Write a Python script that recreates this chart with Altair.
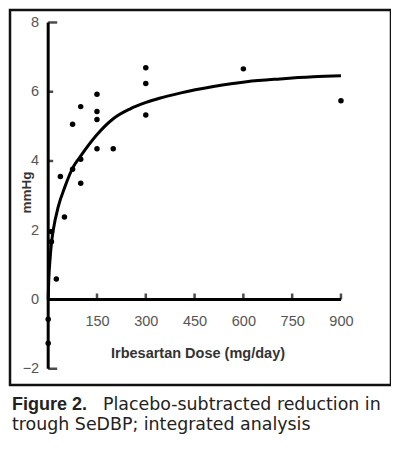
import altair as alt
import pandas as pd

# ---- data ----
POINT_DOSE = [0, 0, 10, 10, 25, 37.5, 50, 75, 75, 100, 100, 100,
              150, 150, 150, 150, 200, 300, 300, 300, 600, 900]
POINT_VALUE = [-0.57, -1.26, 1.96, 1.67, 0.59, 3.55, 2.38, 3.76, 5.06, 4.05, 3.36, 5.57,
               5.93, 5.43, 5.20, 4.35, 4.35, 6.69, 6.24, 5.33, 6.66, 5.74]

CURVE_DOSE = [0, 1, 3, 5.5, 10, 15.7, 31, 51.6, 77, 98, 149, 200, 251, 301, 342,
              405, 508, 610, 713, 815, 900]
CURVE_VALUE = [0.0, 0.35, 0.8, 1.14, 1.62, 2.01, 2.68, 3.26, 3.83, 4.12, 4.75, 5.22,
               5.50, 5.69, 5.81, 5.96, 6.15, 6.29, 6.37, 6.43, 6.46]

X_TICKS = [150, 300, 450, 600, 750, 900]
Y_TICKS = [-2, 0, 2, 4, 6, 8]
Y_INNER_TICKS = [2, 4, 6]
Y_END_TICKS = [-2, 8]
X_SPAN = [0, 900]
Y_SPAN = [-2, 8]
X_VIEW = [-117.4, 1053.8]
Y_VIEW = [-2.469, 8.36]

CAPTION_BOLD = ["Figure 2."]
CAPTION_LINE1 = ["Placebo-subtracted reduction in"]
CAPTION_LINE2 = ["trough SeDBP; integrated analysis"]

X_TITLE = "Irbesartan Dose (mg/day)"
Y_TITLE = "mmHg"

W, H = 381, 375
FONT = "Liberation Sans"

xs = alt.Scale(domain=X_VIEW, nice=False, zero=False)
ys = alt.Scale(domain=Y_VIEW, nice=False, zero=False)

points = pd.DataFrame({"dose": POINT_DOSE, "value": POINT_VALUE})
curve = pd.DataFrame({"dose": CURVE_DOSE, "value": CURVE_VALUE})

x_axis = alt.Axis(values=X_TICKS, offset=-85.5, domain=False, ticks=False, grid=False,
                  labelPadding=15, labelFont=FONT, labelFontSize=14.5, labelColor="#555",
                  title=X_TITLE, titleFont=FONT, titleFontSize=14.5, titleFontWeight="bold",
                  titleColor="#333", titleX=187.5, titleY=53.5, titleBaseline="middle",
                  titleAlign="center")
y_axis = alt.Axis(values=Y_TICKS, offset=-38.2, domain=False, ticks=False, grid=False,
                  labelPadding=9.5, labelFont=FONT, labelFontSize=14.5, labelColor="#555",
                  title=Y_TITLE, titleFont=FONT, titleFontSize=13.5, titleFontWeight="bold",
                  titleColor="#333", titleX=-22, titleY=182, titleBaseline="middle",
                  titleAlign="center", titleAngle=270)

base_pts = alt.Chart(points).mark_circle(size=30, color="black", opacity=1).encode(
    x=alt.X("dose:Q", scale=xs, axis=x_axis),
    y=alt.Y("value:Q", scale=ys, axis=y_axis),
)

line = alt.Chart(curve).mark_line(color="black", strokeWidth=3, interpolate="monotone").encode(
    x=alt.X("dose:Q", scale=xs),
    y=alt.Y("value:Q", scale=ys),
)

xspan = pd.DataFrame({"a": [X_SPAN[0]], "b": [X_SPAN[1]]})
yspan = pd.DataFrame({"a": [Y_SPAN[0]], "b": [Y_SPAN[1]]})

x_line = alt.Chart(xspan).mark_rule(color="black", strokeWidth=3).encode(
    x=alt.X("a:Q", scale=xs), x2="b:Q", y=alt.YDatum(0)
)
y_line = alt.Chart(yspan).mark_rule(color="black", strokeWidth=3).encode(
    y=alt.Y("a:Q", scale=ys), y2="b:Q", x=alt.XDatum(0)
)

xt = alt.Chart(pd.DataFrame({"t": X_TICKS})).mark_tick(
    color="black", orient="vertical", size=6, thickness=2.5, yOffset=-3
).encode(x=alt.X("t:Q", scale=xs), y=alt.YDatum(0))

yt = alt.Chart(pd.DataFrame({"t": Y_INNER_TICKS})).mark_tick(
    color="black", orient="horizontal", size=5, thickness=2.5, xOffset=2.5
).encode(y=alt.Y("t:Q", scale=ys), x=alt.XDatum(0))

ye = alt.Chart(pd.DataFrame({"t": Y_END_TICKS})).mark_tick(
    color="black", orient="horizontal", size=9, thickness=2.5, xOffset=4.5
).encode(y=alt.Y("t:Q", scale=ys), x=alt.XDatum(0))

cap_font = "DejaVu Sans"
cap_size = 17.4
c1 = alt.Chart(pd.DataFrame({"t": CAPTION_BOLD})).mark_text(
    font="Liberation Sans", fontSize=18, fontWeight="bold", color="#222", align="left", baseline="middle"
).encode(text="t:N", x=alt.value(2), y=alt.value(395))
c2 = alt.Chart(pd.DataFrame({"t": CAPTION_LINE1})).mark_text(
    font=cap_font, fontSize=cap_size, color="#222", align="left", baseline="middle"
).encode(text="t:N", x=alt.value(93), y=alt.value(395))
c3 = alt.Chart(pd.DataFrame({"t": CAPTION_LINE2})).mark_text(
    font=cap_font, fontSize=cap_size, color="#222", align="left", baseline="middle"
).encode(text="t:N", x=alt.value(2), y=alt.value(415))

chart = alt.layer(base_pts, line, x_line, y_line, xt, yt, ye, c1, c2, c3).properties(
    width=W, height=H, padding={"left": 2, "top": 2, "right": 0, "bottom": 0}
).configure(background="white").configure_view(stroke="#111", strokeWidth=2.5)

chart.save("out.html", embed_options={"renderer": "svg", "actions": False})
